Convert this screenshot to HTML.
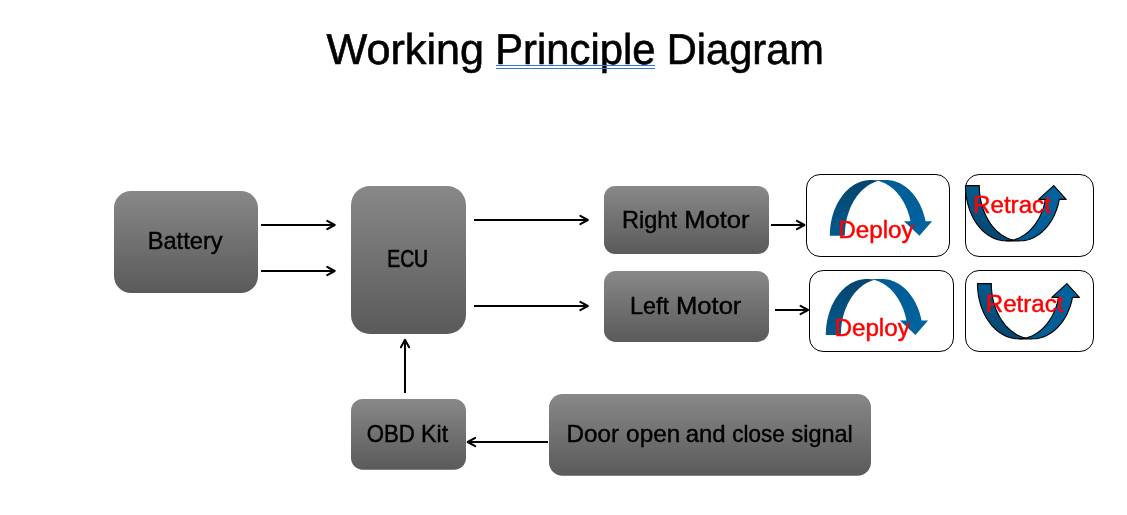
<!DOCTYPE html>
<html>
<head>
<meta charset="utf-8">
<title>Working Principle Diagram</title>
<style>
html,body{margin:0;padding:0;background:#fff;}
body{width:1127px;height:515px;overflow:hidden;position:relative;}
svg{position:absolute;left:0;top:0;display:block;will-change:transform;}
text{font-family:"Liberation Sans",sans-serif;white-space:pre;}
.lbl{font-size:23.2px;fill:#000;stroke:#000;stroke-width:0.4px;}
.red{font-size:24.7px;fill:#ff0000;stroke:#ff0000;stroke-width:0.45px;}
.ttl{text-rendering:geometricPrecision;font-size:43px;fill:#000;stroke:#000;stroke-width:0.6px;}
.box{fill:url(#g);}
.wb{fill:#fff;stroke:#000;stroke-width:1;}
.ln{stroke:#000;stroke-width:2;fill:none;}
.ah{stroke:#000;stroke-width:2;fill:none;stroke-linecap:round;stroke-linejoin:round;}
</style>
</head>
<body>
<svg width="1127" height="515" viewBox="0 0 1127 515">
<defs>
<linearGradient id="g" x1="0" y1="0" x2="0" y2="1">
<stop offset="0" stop-color="#888888"/>
<stop offset="1" stop-color="#5a5a5a"/>
</linearGradient>
<linearGradient id="bd" x1="0" y1="0" x2="0" y2="1">
<stop offset="0" stop-color="#05446d"/>
<stop offset="1" stop-color="#025a8d"/>
</linearGradient>
<linearGradient id="fd" x1="0" y1="0" x2="0" y2="1">
<stop offset="0" stop-color="#005c95"/>
<stop offset="1" stop-color="#00649f"/>
</linearGradient>
<linearGradient id="bu" x1="0" y1="0" x2="0" y2="1">
<stop offset="0" stop-color="#025a8d"/>
<stop offset="1" stop-color="#05466f"/>
</linearGradient>
<linearGradient id="fu" x1="0" y1="0" x2="0" y2="1">
<stop offset="0" stop-color="#00649f"/>
<stop offset="1" stop-color="#005c95"/>
</linearGradient>
</defs>
<!-- title -->
<text class="ttl" y="64"><tspan x="326.51" textLength="157.48" lengthAdjust="spacingAndGlyphs">Working</tspan> <tspan x="495.23" textLength="160.19" lengthAdjust="spacingAndGlyphs">Principle</tspan> <tspan x="666.84" textLength="157.19" lengthAdjust="spacingAndGlyphs">Diagram</tspan></text>
<path d="M496 65.5H655M496 68.5H655" stroke="#3873e0" stroke-width="1" fill="none"/>

<!-- grey boxes -->
<rect class="box" x="114" y="191" width="144" height="102" rx="17"/>
<rect class="box" x="351" y="186" width="115" height="148" rx="19"/>
<rect class="box" x="604" y="186" width="165" height="68" rx="11.3"/>
<rect class="box" x="604" y="271" width="165" height="71" rx="11.8"/>
<rect class="box" x="351" y="399" width="115" height="70.7" rx="11.7"/>
<rect class="box" x="549" y="394" width="322" height="81.7" rx="13.5"/>

<!-- white boxes -->
<rect class="wb" x="806.5" y="174.5" width="143" height="82" rx="13.6"/>
<rect class="wb" x="965.5" y="174.5" width="128" height="82" rx="13.6"/>
<rect class="wb" x="809.5" y="270.5" width="144" height="81" rx="13.6"/>
<rect class="wb" x="965.5" y="270.5" width="128" height="81" rx="13.6"/>

<!-- box labels -->
<text class="lbl" y="249"><tspan x="147.67" textLength="74.95" lengthAdjust="spacingAndGlyphs">Battery</tspan></text>
<text class="lbl" y="267"><tspan x="387.26" textLength="40.82" lengthAdjust="spacingAndGlyphs" stroke-width="0.65">ECU</tspan></text>
<text class="lbl" y="228"><tspan x="621.98" textLength="55.01" lengthAdjust="spacingAndGlyphs">Right</tspan> <tspan x="684.3" textLength="65.3" lengthAdjust="spacingAndGlyphs">Motor</tspan></text>
<text class="lbl" y="314"><tspan x="630.09" textLength="39" lengthAdjust="spacingAndGlyphs">Left</tspan> <tspan x="675.99" textLength="65.4" lengthAdjust="spacingAndGlyphs">Motor</tspan></text>
<text class="lbl" y="442"><tspan x="366.64" textLength="48.2" lengthAdjust="spacingAndGlyphs">OBD</tspan> <tspan x="421.12" textLength="26.95" lengthAdjust="spacingAndGlyphs">Kit</tspan></text>
<text class="lbl" y="442"><tspan x="566.52" textLength="52.54" lengthAdjust="spacingAndGlyphs">Door</tspan> <tspan x="626.13" textLength="54.06" lengthAdjust="spacingAndGlyphs">open</tspan> <tspan x="685.7" textLength="39.98" lengthAdjust="spacingAndGlyphs">and</tspan> <tspan x="732.21" textLength="52.44" lengthAdjust="spacingAndGlyphs">close</tspan> <tspan x="791.4" textLength="61.46" lengthAdjust="spacingAndGlyphs">signal</tspan></text>

<!-- connector arrows -->
<path class="ln" d="M261 225L334.7 225"/><path class="ah" d="M327.2 220.9L334.7 225L327.2 229.1"/>
<path class="ln" d="M261 271L334.7 271"/><path class="ah" d="M327.2 266.9L334.7 271L327.2 275.1"/>
<path class="ln" d="M474 220L587.8 220"/><path class="ah" d="M580.3 215.9L587.8 220L580.3 224.1"/>
<path class="ln" d="M474 306L587.8 306"/><path class="ah" d="M580.3 301.9L587.8 306L580.3 310.1"/>
<path class="ln" d="M771 225L804.4 225"/><path class="ah" d="M796.9 220.9L804.4 225L796.9 229.1"/>
<path class="ln" d="M775 310L808 310"/><path class="ah" d="M800.5 305.9L808 310L800.5 314.1"/>
<path class="ln" d="M405 393L405 339.8"/><path class="ah" d="M400.9 347.3L405 339.8L409.1 347.3"/>
<path class="ln" d="M548 442L467.7 442"/><path class="ah" d="M475.2 446.1L467.7 442L475.2 437.9"/>

<!-- curved arrows -->
<g><path d="M829.8 235.7L829.84 233.26L829.96 230.82L830.16 228.39L830.43 225.97L830.78 223.58L831.21 221.21L831.72 218.86L832.3 216.55L832.96 214.27L833.69 212.04L834.49 209.85L835.36 207.71L836.3 205.63L837.31 203.6L838.38 201.63L839.51 199.73L840.7 197.9L841.95 196.14L843.26 194.46L844.62 192.86L846.03 191.34L847.49 189.9L848.99 188.56L850.54 187.3L852.12 186.14L853.74 185.07L855.39 184.1L857.08 183.23L858.79 182.46L860.52 181.8L862.27 181.23L864.04 180.77L865.82 180.42L867.62 180.17L869.41 180.03L871.21 180L873.02 180.08L874.81 180.26L876.6 180.55L878.38 180.94L878.38 180.94L876.98 181.33L875.6 181.78L874.23 182.3L872.87 182.88L871.53 183.52L870.2 184.23L868.9 185L867.61 185.83L866.35 186.72L865.11 187.67L863.9 188.67L862.71 189.73L861.55 190.85L860.42 192.02L859.32 193.25L858.25 194.52L857.21 195.85L856.21 197.22L855.25 198.64L854.32 200.1L853.43 201.61L852.58 203.16L851.76 204.74L850.99 206.37L850.27 208.02L849.58 209.72L848.94 211.44L848.34 213.19L847.79 214.97L847.28 216.78L846.82 218.6L846.41 220.45L846.04 222.32L845.72 224.2L845.45 226.09L845.23 228L845.06 229.92L844.94 231.84L844.86 233.77L844.84 235.7Z" fill="url(#bd)"/><path d="M870.86 180L885.9 180L887.69 180.05L889.48 180.21L891.26 180.48L893.03 180.85L894.79 181.32L896.53 181.9L898.25 182.58L899.95 183.36L901.62 184.25L903.26 185.23L904.87 186.3L906.44 187.47L907.97 188.73L909.46 190.09L910.91 191.52L912.3 193.05L913.65 194.65L914.94 196.33L916.18 198.09L917.36 199.92L918.49 201.82L919.54 203.78L920.54 205.8L921.47 207.88L922.33 210.02L923.12 212.2L923.84 214.42L924.49 216.69L925.07 218.99L925.57 221.33L932.11 221.33L919.44 235.7L903.98 221.33L910.53 221.33L910.03 218.99L909.45 216.69L908.8 214.42L908.08 212.2L907.29 210.02L906.43 207.88L905.5 205.8L904.51 203.78L903.45 201.82L902.33 199.92L901.14 198.09L899.91 196.33L898.61 194.65L897.26 193.05L895.87 191.52L894.42 190.09L892.93 188.73L891.4 187.47L889.83 186.3L888.22 185.23L886.58 184.25L884.91 183.36L883.21 182.58L881.49 181.9L879.75 181.32L877.99 180.85L876.22 180.48L874.44 180.21L872.65 180.05L870.86 180Z" fill="url(#fd)"/></g>
<g><path d="M825.8 334.9L825.84 332.45L825.96 330L826.16 327.56L826.43 325.14L826.78 322.73L827.21 320.35L827.72 317.99L828.3 315.67L828.96 313.39L829.69 311.14L830.49 308.95L831.36 306.8L832.3 304.7L833.3 302.67L834.38 300.7L835.51 298.79L836.7 296.95L837.95 295.19L839.26 293.5L840.62 291.89L842.03 290.36L843.49 288.93L844.99 287.57L846.53 286.31L848.12 285.15L849.74 284.08L851.39 283.1L853.07 282.23L854.78 281.46L856.51 280.79L858.27 280.23L860.04 279.77L861.82 279.42L863.61 279.17L865.41 279.03L867.21 279L869.01 279.08L870.8 279.26L872.59 279.56L874.37 279.95L874.37 279.95L872.97 280.34L871.59 280.8L870.22 281.32L868.87 281.9L867.53 282.55L866.21 283.26L864.9 284.03L863.62 284.86L862.36 285.76L861.12 286.71L859.91 287.72L858.73 288.79L857.57 289.91L856.44 291.09L855.34 292.31L854.27 293.59L853.24 294.92L852.24 296.3L851.28 297.73L850.35 299.19L849.46 300.7L848.61 302.26L847.8 303.85L847.04 305.48L846.31 307.14L845.62 308.84L844.98 310.57L844.39 312.32L843.84 314.11L843.33 315.92L842.87 317.75L842.46 319.6L842.09 321.48L841.78 323.36L841.51 325.27L841.29 327.18L841.11 329.1L840.99 331.03L840.92 332.96L840.89 334.9Z" fill="url(#bd)"/><path d="M866.82 279L881.91 279L883.7 279.05L885.49 279.21L887.27 279.48L889.04 279.85L890.8 280.33L892.54 280.91L894.25 281.59L895.95 282.38L897.62 283.26L899.26 284.24L900.86 285.32L902.43 286.5L903.96 287.77L905.45 289.12L906.9 290.57L908.29 292.09L909.64 293.7L910.93 295.39L912.17 297.16L913.35 298.99L914.47 300.9L915.53 302.87L916.52 304.9L917.45 306.98L918.31 309.12L919.1 311.31L919.82 313.55L920.47 315.82L921.04 318.13L921.54 320.48L928.11 320.48L915.39 334.9L899.88 320.48L906.45 320.48L905.95 318.13L905.38 315.82L904.73 313.55L904.01 311.31L903.22 309.12L902.36 306.98L901.43 304.9L900.44 302.87L899.38 300.9L898.26 298.99L897.08 297.16L895.84 295.39L894.55 293.7L893.2 292.09L891.8 290.57L890.36 289.12L888.87 287.77L887.34 286.5L885.77 285.32L884.17 284.24L882.53 283.26L880.86 282.38L879.16 281.59L877.44 280.91L875.7 280.33L873.95 279.85L872.18 279.48L870.4 279.21L868.61 279.05L866.82 279Z" fill="url(#fd)"/></g>
<g><path d="M965.5 185.6L965.54 188L965.65 190.4L965.85 192.79L966.11 195.16L966.46 197.52L966.88 199.86L967.37 202.16L967.94 204.44L968.58 206.68L969.29 208.88L970.07 211.04L970.92 213.14L971.84 215.2L972.82 217.2L973.86 219.14L974.97 221.01L976.13 222.82L977.35 224.56L978.63 226.23L979.96 227.82L981.34 229.32L982.76 230.75L984.23 232.09L985.74 233.34L987.29 234.5L988.88 235.57L990.49 236.54L992.14 237.42L993.81 238.2L995.51 238.88L997.23 239.45L998.96 239.93L1000.71 240.3L1002.47 240.57L1004.24 240.74L1006 240.8L1007.77 240.76L1009.54 240.61L1011.3 240.36L1013.05 240L1013.05 240L1011.65 239.64L1010.26 239.21L1008.89 238.72L1007.53 238.16L1006.18 237.54L1004.85 236.85L1003.54 236.1L1002.25 235.29L1000.98 234.42L999.73 233.49L998.51 232.5L997.31 231.45L996.14 230.34L995.01 229.19L993.9 227.97L992.82 226.71L991.78 225.39L990.77 224.03L989.8 222.62L988.86 221.17L987.96 219.67L987.11 218.13L986.29 216.54L985.51 214.93L984.78 213.27L984.08 211.58L983.44 209.86L982.83 208.11L982.28 206.33L981.77 204.53L981.3 202.7L980.88 200.86L980.51 198.99L980.19 197.11L979.92 195.21L979.7 193.3L979.52 191.39L979.4 189.46L979.32 187.53L979.3 185.6Z" fill="url(#bu)" stroke="#000" stroke-width="1.15" stroke-linejoin="round"/><path d="M1006.15 240.8L1019.95 240.8L1021.74 240.75L1023.52 240.59L1025.29 240.32L1027.06 239.95L1028.81 239.47L1030.54 238.89L1032.26 238.21L1033.95 237.42L1035.61 236.54L1037.24 235.56L1038.84 234.48L1040.4 233.3L1041.93 232.04L1043.41 230.68L1044.84 229.24L1046.23 227.71L1047.57 226.1L1048.85 224.42L1050.08 222.66L1051.25 220.82L1052.36 218.92L1053.4 216.96L1054.39 214.93L1055.3 212.85L1056.15 210.72L1056.93 208.53L1057.63 206.3L1058.27 204.04L1058.82 201.73L1059.31 199.4L1066.21 199.4L1053.7 185.6L1038.61 199.4L1045.51 199.4L1045.02 201.73L1044.47 204.04L1043.83 206.3L1043.13 208.53L1042.35 210.72L1041.5 212.85L1040.59 214.93L1039.6 216.96L1038.56 218.92L1037.45 220.82L1036.28 222.66L1035.05 224.42L1033.77 226.1L1032.43 227.71L1031.04 229.24L1029.61 230.68L1028.13 232.04L1026.6 233.3L1025.04 234.48L1023.44 235.56L1021.81 236.54L1020.15 237.42L1018.46 238.21L1016.74 238.89L1015.01 239.47L1013.26 239.95L1011.49 240.32L1009.72 240.59L1007.94 240.75L1006.15 240.8Z" fill="url(#fu)" stroke="#000" stroke-width="1.15" stroke-linejoin="round"/></g>
<g><path d="M977.5 283.6L977.54 286L977.66 288.39L977.85 290.78L978.12 293.15L978.47 295.5L978.9 297.84L979.4 300.14L979.97 302.41L980.62 304.65L981.34 306.85L982.13 309L982.99 311.11L983.91 313.16L984.91 315.16L985.96 317.1L987.08 318.97L988.26 320.78L989.5 322.52L990.79 324.18L992.13 325.77L993.53 327.28L994.97 328.7L996.46 330.04L997.99 331.3L999.56 332.46L1001.16 333.53L1002.8 334.51L1004.47 335.38L1006.16 336.17L1007.88 336.85L1009.62 337.43L1011.38 337.91L1013.15 338.29L1014.93 338.56L1016.72 338.73L1018.51 338.8L1020.3 338.76L1022.09 338.62L1023.88 338.37L1025.65 338.02L1025.65 338.02L1024.23 337.67L1022.82 337.24L1021.42 336.75L1020.03 336.2L1018.66 335.58L1017.31 334.89L1015.97 334.15L1014.66 333.34L1013.37 332.47L1012.1 331.54L1010.86 330.55L1009.64 329.5L1008.45 328.4L1007.29 327.24L1006.16 326.03L1005.07 324.76L1004.01 323.45L1002.98 322.09L1001.99 320.68L1001.04 319.22L1000.12 317.72L999.25 316.18L998.42 314.59L997.62 312.97L996.88 311.32L996.17 309.63L995.51 307.9L994.9 306.15L994.33 304.37L993.81 302.56L993.34 300.73L992.91 298.88L992.54 297.01L992.21 295.13L991.93 293.23L991.71 291.32L991.53 289.4L991.4 287.47L991.33 285.54L991.3 283.6Z" fill="url(#bu)" stroke="#000" stroke-width="1.15" stroke-linejoin="round"/><path d="M1018.75 338.8L1032.55 338.8L1034.36 338.75L1036.17 338.59L1037.97 338.32L1039.76 337.95L1041.54 337.47L1043.3 336.89L1045.04 336.21L1046.75 335.42L1048.44 334.54L1050.1 333.56L1051.72 332.48L1053.31 331.3L1054.85 330.04L1056.35 328.68L1057.81 327.24L1059.22 325.71L1060.57 324.1L1061.88 322.42L1063.12 320.66L1064.31 318.82L1065.44 316.92L1066.5 314.96L1067.49 312.93L1068.42 310.85L1069.28 308.72L1070.07 306.53L1070.79 304.3L1071.43 302.04L1072 299.73L1072.49 297.4L1079.39 297.4L1066.9 283.6L1051.79 297.4L1058.69 297.4L1058.2 299.73L1057.63 302.04L1056.99 304.3L1056.27 306.53L1055.48 308.72L1054.62 310.85L1053.69 312.93L1052.7 314.96L1051.64 316.92L1050.51 318.82L1049.32 320.66L1048.08 322.42L1046.77 324.1L1045.42 325.71L1044.01 327.24L1042.55 328.68L1041.05 330.04L1039.51 331.3L1037.92 332.48L1036.3 333.56L1034.64 334.54L1032.95 335.42L1031.24 336.21L1029.5 336.89L1027.74 337.47L1025.96 337.95L1024.17 338.32L1022.37 338.59L1020.56 338.75L1018.75 338.8Z" fill="url(#fu)" stroke="#000" stroke-width="1.15" stroke-linejoin="round"/></g>

<!-- red captions -->
<text class="red" y="238"><tspan x="838.18" textLength="75.51" lengthAdjust="spacingAndGlyphs">Deploy</tspan></text>
<text class="red" y="213"><tspan x="973.09" textLength="77.77" lengthAdjust="spacingAndGlyphs">Retract</tspan></text>
<text class="red" y="335.5"><tspan x="834.38" textLength="75.51" lengthAdjust="spacingAndGlyphs">Deploy</tspan></text>
<text class="red" y="312"><tspan x="985.8" textLength="77.66" lengthAdjust="spacingAndGlyphs">Retract</tspan></text>
</svg>
</body>
</html>
